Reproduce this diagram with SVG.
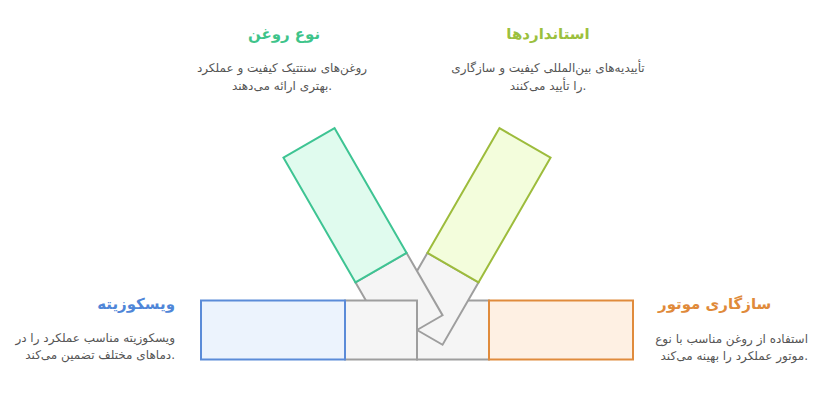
<svg xmlns="http://www.w3.org/2000/svg" width="825" height="411" viewBox="0 0 825 411">
<style>
  text { font-family: "DejaVu Sans", "Noto Sans", sans-serif; }
  .t { font-size: 15px; font-weight: bold; }
  .d { font-size: 12px; fill: #555555; }
  .g { fill: #f5f5f5; stroke: #9e9e9e; stroke-width: 2; }
  .blue { fill: #ecf3fd; stroke: #5b8bd8; stroke-width: 2; }
  .green { fill: #e0fbee; stroke: #3ec493; stroke-width: 2; }
  .yel { fill: #f3fddc; stroke: #9dbc3c; stroke-width: 2; }
  .org { fill: #fef0e3; stroke: #e08b3c; stroke-width: 2; }
</style>
<rect width="825" height="411" fill="#ffffff"/>
<g id="connectors"></g>
<g id="motor">
  <g transform="translate(417,330)">
    <rect class="g" x="0" y="-29.5" width="72" height="59"/>
    <rect class="org" x="72" y="-29.5" width="144" height="59"/>
  </g>
  <text class="t" x="658" y="309" fill="#e08a3a" text-anchor="start">سازگاری موتور</text>
  <text class="d" x="808" y="343" text-anchor="end">استفاده از روغن مناسب با نوع</text>
  <text class="d" x="808" y="360" text-anchor="end">موتور عملکرد را بهینه می‌کند.</text>
</g>
<g id="standards">
  <g transform="translate(417,330) rotate(-60)">
    <rect class="g" x="0" y="-29.5" width="72" height="59"/>
    <rect class="yel" x="72" y="-29.5" width="144" height="59"/>
  </g>
  <text class="t" x="548" y="39" fill="#9bc03d" text-anchor="middle">استانداردها</text>
  <text class="d" x="548" y="72" text-anchor="middle">تأییدیه‌های بین‌المللی کیفیت و سازگاری</text>
  <text class="d" x="548" y="90" text-anchor="middle">را تأیید می‌کنند.</text>
</g>
<g id="oil-type">
  <g transform="translate(417,330) rotate(60)">
    <rect class="g" x="-72" y="-29.5" width="72" height="59"/>
    <rect class="green" x="-216" y="-29.5" width="144" height="59"/>
  </g>
  <text class="t" x="284" y="39" fill="#3ec48a" text-anchor="middle">نوع روغن</text>
  <text class="d" x="282" y="72" text-anchor="middle">روغن‌های سنتتیک کیفیت و عملکرد</text>
  <text class="d" x="282" y="90" text-anchor="middle">بهتری ارائه می‌دهند.</text>
</g>
<g id="viscosity">
  <g transform="translate(417,330)">
    <rect class="g" x="-72" y="-29.5" width="72" height="59"/>
    <rect class="blue" x="-216" y="-29.5" width="144" height="59"/>
  </g>
  <text class="t" x="175" y="309" fill="#4f86d8" text-anchor="end">ویسکوزیته</text>
  <text class="d" x="175" y="342" text-anchor="end">ویسکوزیته مناسب عملکرد را در</text>
  <text class="d" x="175" y="359" text-anchor="end">دماهای مختلف تضمین می‌کند.</text>
</g>
</svg>
